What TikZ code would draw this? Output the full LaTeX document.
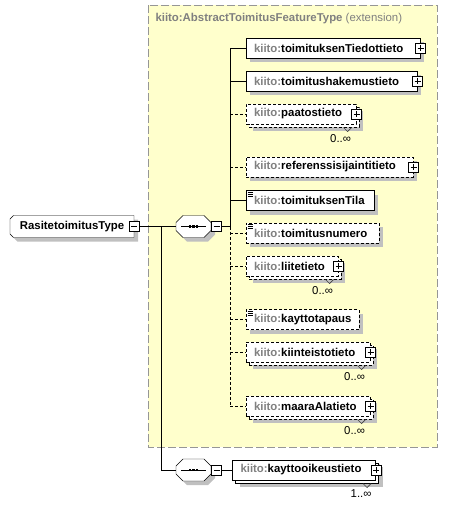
\documentclass[tikz,border=0pt]{standalone}
\usepackage{fontspec}
\setmainfont{Liberation Sans}
\usetikzlibrary{shadows,backgrounds}
\definecolor{extfill}{RGB}{255,255,204}
\definecolor{extline}{RGB}{150,150,150}
\definecolor{pfxgray}{RGB}{128,128,128}
\definecolor{shadowgray}{RGB}{192,192,192}
\newcommand{\kiito}[1]{\mbox{\textcolor{pfxgray}{kiito:}#1}}
\tikzset{
  boxshadow/.style={drop shadow={shadow xshift=4pt,shadow yshift=-4pt,fill=shadowgray,opacity=1}},
  elem/.style={draw,fill=white,anchor=west,minimum height=20pt,inner xsep=8pt,inner ysep=0pt,
    text width=#1,align=left,font=\bfseries,boxshadow},
  opt/.style={dash pattern=on 3pt off 2pt},
  many/.style={general shadow={shadow xshift=7pt,shadow yshift=-7pt,fill=shadowgray},
    general shadow={shadow xshift=3pt,shadow yshift=-3pt,fill=white,draw=black,#1}},
  pmbox/.style={draw,fill=white,minimum size=10pt,inner sep=0pt},
  minusbox/.style={pmbox,path picture={\draw ([xshift=2pt]path picture bounding box.west) -- ([xshift=-2pt]path picture bounding box.east);}},
  plusbox/.style={pmbox,path picture={\draw ([xshift=2pt]path picture bounding box.west) -- ([xshift=-2pt]path picture bounding box.east)
    ([yshift=-2pt]path picture bounding box.north) -- ([yshift=2pt]path picture bounding box.south);}},
  typebox/.style={anchor=west,minimum width=123pt,minimum height=21pt,inner sep=0pt,font=\bfseries},
  seqbox/.style={anchor=west,minimum width=34pt,minimum height=21pt,inner sep=0pt},
  outline/.style={draw,fill=white,boxshadow},
  occurs/.style={anchor=east,inner sep=0pt}
}
\begin{document}
\fontsize{11.4pt}{13pt}\selectfont
\begin{tikzpicture}[x=1pt,y=-1pt,line width=1pt]
  \useasboundingbox (0,0) rectangle (452,506);
  % extension area
  \begin{scope}[on background layer]
    \draw[extline,fill=extfill,dash pattern=on 8pt off 3pt] (148,5) rectangle (437,447);
  \end{scope}
  \node[anchor=west,inner sep=0pt,text=pfxgray] (exttitle) at (155,18.5) {\bfseries kiito:AbstractToimitusFeatureType \mdseries(extension)};

  % type and sequences
  \node[typebox] (typ) at (10,226.5) {RasitetoimitusType\hspace{6pt}};
  \node[minusbox] (typM) at (typ.east) {};
  \node[seqbox] (seq1) at (176,226.5) {};
  \node[minusbox,anchor=west] (seq1M) at (seq1.east) {};
  \node[seqbox] (seq2) at (176,470) {};
  \node[minusbox,anchor=west] (seq2M) at (seq2.east) {};
  \begin{scope}[on background layer]
    \draw[outline] ([xshift=3.5pt]typ.north west) -- (typ.north east) -- (typ.south east)
      -- ([xshift=3.5pt]typ.south west) -- ([yshift=3.5pt]typ.south west) -- ([yshift=-3.5pt]typ.north west) -- cycle;
    \foreach \s in {seq1,seq2}
      \draw[outline] ([xshift=7pt]\s.north west) -- ([xshift=-7pt]\s.north east) -- ([yshift=-7pt]\s.north east)
        -- ([yshift=7pt]\s.south east) -- ([xshift=-7pt]\s.south east) -- ([xshift=7pt]\s.south west)
        -- ([yshift=7pt]\s.south west) -- ([yshift=-7pt]\s.north west) -- cycle;
  \end{scope}
  \foreach \s in {seq1,seq2} {
    \draw ([xshift=-12.5pt]\s.center) -- ([xshift=12.5pt]\s.center);
    \foreach \dx in {-3.5,0,3.5}
      \fill ([xshift=\dx]\s.center) ++(-1.3,-1.3) rectangle ++(2.6,2.6);
  }

  % elements
  \node[elem=158pt] (tiedot) at (245.5,48) {\kiito{toimituksenTiedottieto}};
  \node[elem=155pt] (hakemus) at (245.5,81) {\kiito{toimitushakemustieto}};
  \node[elem=94pt,opt,many=opt] (paatos) at (245.5,114) {\kiito{paatostieto}};
  \node[elem=151pt,opt] (referenssi) at (245.5,167) {\kiito{referenssisijaintitieto}};
  \node[elem=112pt] (tila) at (245.5,200.5) {\kiito{toimituksenTila}};
  \node[elem=117pt,opt] (numero) at (245.5,233) {\kiito{toimitusnumero}};
  \node[elem=76pt,opt,many=opt] (liite) at (245.5,266) {\kiito{liitetieto}};
  \node[elem=97pt,opt] (kaytto) at (245.5,319.5) {\kiito{kayttotapaus}};
  \node[elem=108pt,opt,many=opt] (kiinteisto) at (245.5,352) {\kiito{kiinteistotieto}};
  \node[elem=108pt,opt,many=opt] (maara) at (245.5,406) {\kiito{maaraAlatieto}};
  \node[elem=127pt,many=solid] (oikeus) at (232,470) {\kiito{kayttooikeustieto}};

  \foreach \n in {tiedot,hakemus,paatos,referenssi,liite,kiinteisto,maara,oikeus}
    \node[plusbox] (\n P) at (\n.east) {};
  \foreach \n in {tila,numero,kaytto}
    \foreach \d in {2,4,6}
      \draw[line width=0.7pt] ([xshift=2pt,yshift=-\d]\n.north west) -- ++(5,0);
  \foreach \n in {paatos,liite,kiinteisto,maara,oikeus}
    \draw[darkgray,line width=0.7pt] ([xshift=-13pt,yshift=-3pt]\n.south east) -- ++(4,4) -- ++(4,-4);
  \node[occurs] (paatosN) at ([xshift=-5pt,yshift=-14pt]paatos.south east) {0..∞};
  \node[occurs] (liiteN) at ([xshift=-5pt,yshift=-14pt]liite.south east) {0..∞};
  \node[occurs] (kiinteistoN) at ([xshift=-5pt,yshift=-14pt]kiinteisto.south east) {0..∞};
  \node[occurs] (maaraN) at ([xshift=-5pt,yshift=-14pt]maara.south east) {0..∞};
  \node[occurs] (oikeusN) at ([xshift=-4pt,yshift=-13pt]oikeus.south east) {1..∞};

  % connectors
  \coordinate (split) at (161,226.5);
  \coordinate (bus) at (230,226.5);
  \draw (typM.east) -- (seq1.west);
  \draw (split) |- (seq2.west);
  \draw (seq1M.east) -- (bus);
  \draw (bus) -- (bus |- tiedot.west);
  \draw[opt] (bus) -- (bus |- maara.west);
  \foreach \n in {tiedot,hakemus,tila}
    \draw (bus |- \n.west) -- (\n.west);
  \foreach \n in {paatos,referenssi,numero,liite,kaytto,kiinteisto,maara}
    \draw[opt] (bus |- \n.west) -- (\n.west);
  \draw (seq2M.east) -- (oikeus.west);
\end{tikzpicture}
\end{document}
